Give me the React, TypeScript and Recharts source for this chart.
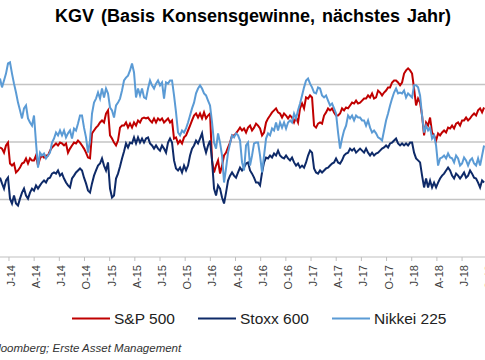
import { LineChart, Line, XAxis, YAxis, ReferenceLine } from 'recharts';

// Zeitachse in Monaten relativ zu Jan 2014, Beginn Anfang Dez 2013, etwa wöchentlich
const START = -1.07;
const STEP = 0.2384;

const quarterTicks = [0, 3, 6, 9, 12, 15, 18, 21, 24, 27, 30, 33, 36, 39, 42, 45, 48, 51, 54, 57];
const tickLabels = [
  'J-14', 'A-14', 'J-14', 'O-14', 'J-15', 'A-15', 'J-15', 'O-15', 'J-16', 'A-16',
  'J-16', 'O-16', 'J-17', 'A-17', 'J-17', 'O-17', 'J-18', 'A-18', 'J-18', 'O-18',
];
const gridValues = [14, 16, 18];

const sp500 = [
  15.81, 15.77, 15.63, 15.88, 15.98, 15.25, 15.18, 15.25, 14.94, 15.01,
  15.11, 15.25, 15.29, 15.43, 15.25, 15.43, 15.36, 15.36, 15.53, 15.18,
  15.43, 15.53, 15.46, 15.53, 15.53, 15.70, 15.81, 15.88, 15.95, 15.88,
  15.98, 15.95, 15.88, 15.95, 15.63, 15.77, 15.88, 15.98, 15.95, 16.05,
  15.98, 15.88, 15.77, 15.63, 15.46, 15.43, 16.30, 16.40, 16.50, 16.57,
  16.68, 16.75, 16.68, 16.99, 17.10, 16.23, 16.12, 15.98, 15.88, 16.05,
  16.50, 16.57, 16.57, 16.68, 16.50, 16.64, 16.50, 16.68, 16.57, 16.75,
  16.68, 16.82, 16.85, 16.82, 16.85, 16.75, 16.68, 16.82, 16.68, 16.82,
  16.75, 16.82, 16.68, 16.75, 16.82, 16.68, 16.75, 16.12, 16.16, 15.95,
  16.05, 15.95, 16.16, 16.23, 16.40, 16.57, 16.75, 16.92, 16.99, 16.85,
  16.99, 16.82, 17.03, 16.82, 16.92, 16.99, 15.36, 14.94, 15.18, 15.36,
  14.90, 15.18, 15.53, 15.63, 15.81, 15.98, 16.23, 16.23, 16.30, 16.40,
  16.50, 16.40, 16.47, 16.33, 16.50, 16.57, 16.40, 16.50, 16.64, 16.57,
  16.47, 16.23, 16.33, 16.68, 16.82, 16.92, 17.03, 17.10, 17.17, 17.03,
  16.99, 16.85, 16.99, 16.92, 16.82, 16.92, 16.85, 16.68, 16.85, 16.68,
  17.17, 17.34, 17.17, 17.55, 17.51, 17.62, 17.55, 16.57, 16.50, 16.64,
  16.68, 16.64, 16.92, 17.03, 17.17, 17.10, 17.17, 17.03, 16.92, 16.92,
  16.99, 17.17, 17.10, 17.20, 17.17, 17.27, 17.37, 17.34, 17.44, 17.34,
  17.37, 17.44, 17.51, 17.51, 17.62, 17.55, 17.69, 17.51, 17.55, 17.79,
  17.72, 17.62, 17.72, 17.79, 17.90, 17.90, 18.07, 18.14, 18.14, 18.07,
  17.97, 18.07, 18.38, 18.49, 18.56, 18.49, 18.38, 17.86, 17.27, 17.51,
  17.37, 16.92, 16.23, 16.68, 16.57, 16.85, 16.33, 16.23, 16.05, 16.30,
  16.23, 16.33, 16.40, 16.33, 16.50, 16.47, 16.57, 16.47, 16.64, 16.68,
  16.57, 16.75, 16.75, 16.85, 16.75, 16.82, 16.92, 16.99, 16.92, 17.10,
  17.17, 17.03, 17.20,
];

const stoxx600 = [
  14.76, 14.56, 14.38, 14.66, 14.76, 14.03, 13.86, 14.14, 13.86, 13.79,
  14.03, 14.24, 14.38, 14.14, 14.03, 14.24, 14.38, 14.31, 14.49, 14.38,
  14.49, 14.59, 14.66, 14.59, 14.73, 14.76, 14.90, 14.94, 14.90, 15.01,
  14.83, 14.90, 14.73, 14.59, 14.49, 14.42, 14.73, 14.83, 14.94, 15.01,
  15.08, 15.01, 14.76, 14.56, 14.31, 14.24, 14.56, 14.83, 15.01, 15.18,
  15.25, 15.43, 15.18, 15.01, 15.29, 14.38, 14.07, 14.14, 14.73, 14.90,
  15.15, 15.43, 15.67, 15.95, 15.81, 15.98, 15.95, 16.16, 15.95, 16.16,
  15.98, 16.12, 15.98, 16.12, 16.16, 15.95, 15.88, 15.77, 15.88, 15.77,
  15.70, 15.88, 15.77, 15.63, 15.98, 16.12, 15.98, 15.36, 15.08, 15.01,
  15.11, 14.94, 15.18, 15.01, 15.18, 15.53, 15.77, 15.88, 16.05, 15.95,
  16.12, 16.30, 15.88, 15.63, 15.88, 16.05, 15.36, 14.38, 14.14, 14.49,
  14.38, 14.07, 13.86, 14.24, 14.66, 14.83, 14.94, 14.83, 14.76, 14.94,
  15.11, 15.01, 15.11, 15.25, 15.29, 15.01, 14.90, 14.76, 14.59, 14.59,
  14.49, 14.94, 15.29, 15.46, 15.43, 15.53, 15.46, 15.60, 15.53, 15.70,
  15.53, 15.46, 15.43, 15.53, 15.43, 15.36, 15.46, 15.29, 15.18, 15.25,
  15.11, 15.18, 15.11, 15.29, 15.53, 15.70, 15.63, 15.08, 14.94, 14.90,
  15.01, 14.94, 15.01, 15.08, 15.11, 15.18, 15.25, 15.29, 15.43, 15.29,
  15.25, 15.36, 15.53, 15.60, 15.63, 15.77, 15.70, 15.77, 15.63, 15.70,
  15.77, 15.70, 15.63, 15.77, 15.63, 15.53, 15.63, 15.53, 15.60, 15.63,
  15.70, 15.77, 15.81, 15.88, 15.81, 15.95, 15.98, 16.05, 16.12, 15.95,
  15.88, 15.95, 15.88, 15.95, 15.88, 15.98, 15.98, 15.63, 15.43, 15.36,
  15.29, 14.83, 14.42, 14.73, 14.42, 14.66, 14.42, 14.59, 14.42, 14.59,
  14.73, 14.83, 14.90, 15.01, 15.11, 15.01, 14.83, 14.73, 14.90, 14.83,
  14.73, 14.83, 14.94, 14.76, 14.83, 15.01, 14.90, 14.76, 14.73, 14.59,
  14.42, 14.66, 14.59,
];

const nikkei225 = [
  18.21, 17.90, 18.14, 18.38, 18.73, 18.77, 18.38, 18.03, 17.72, 17.37,
  17.10, 16.82, 17.17, 17.27, 16.82, 16.68, 16.57, 16.92, 15.98, 15.11,
  15.63, 15.53, 15.60, 15.43, 15.53, 15.63, 15.98, 16.12, 16.33, 16.23,
  16.40, 16.23, 16.40, 16.16, 16.30, 16.40, 16.12, 16.47, 16.40, 16.64,
  16.92, 16.92, 16.50, 16.16, 15.63, 16.05, 16.99, 17.37, 17.51, 17.72,
  17.51, 17.86, 17.55, 17.86, 17.69, 17.20, 17.10, 16.85, 17.27, 17.37,
  17.51, 17.79, 18.14, 18.24, 18.31, 18.49, 18.73, 18.42, 17.55, 17.86,
  17.62, 17.86, 17.55, 17.51, 17.86, 18.14, 17.97, 17.86, 18.03, 18.14,
  17.97, 18.07, 17.51, 18.07, 18.03, 18.14, 18.14, 17.62, 17.03, 16.33,
  16.23, 16.40, 16.33, 16.47, 16.68, 16.92, 17.17, 17.37, 17.69, 17.86,
  17.97, 17.86, 17.69, 17.62, 17.44, 17.27, 16.68, 15.98, 15.77, 16.30,
  15.98, 15.53, 14.59, 15.08, 15.63, 15.95, 16.23, 16.16, 16.30, 16.23,
  16.05, 15.29, 15.01, 15.88, 15.98, 15.18, 15.53, 15.95, 15.98, 15.98,
  15.53, 14.94, 15.53, 16.12, 16.30, 16.23, 16.47, 16.40, 16.68, 16.40,
  16.68, 16.50, 16.68, 16.47, 16.68, 16.75, 16.68, 16.99, 16.82, 17.10,
  17.34, 17.62, 17.90, 18.14, 18.21, 18.03, 17.90, 17.72, 17.69, 17.90,
  17.86, 17.62, 17.55, 17.62, 17.44, 17.27, 17.34, 17.17, 16.99, 16.33,
  15.77, 16.12, 16.40, 16.57, 16.92, 16.82, 16.92, 16.75, 16.92, 16.85,
  16.85, 16.75, 16.75, 16.57, 16.75, 16.50, 16.33, 16.40, 16.30, 16.16,
  16.12, 16.05, 16.40, 16.75, 16.99, 17.27, 17.51, 17.72, 17.86, 17.69,
  17.72, 17.69, 17.79, 17.55, 17.69, 17.62, 17.55, 17.97, 17.97, 17.90,
  17.62, 16.92, 16.33, 16.57, 16.40, 16.50, 16.12, 16.23, 15.88, 15.18,
  15.43, 15.46, 15.53, 15.43, 15.60, 15.46, 15.43, 15.29, 15.53, 15.43,
  15.18, 15.25, 15.46, 15.36, 15.18, 15.36, 15.43, 15.25, 15.18, 15.43,
  15.18, 15.53, 15.88,
];

const data = sp500.map((v, i) => ({
  t: START + i * STEP,
  sp500: v,
  stoxx600: stoxx600[i],
  nikkei225: nikkei225[i],
}));

const FONT = '"Liberation Sans", Arial, sans-serif';
const RED = '#C00000';
const NAVY = '#0E2A68';
const LIGHT = '#5B9BD5';

function QuarterTick({ x, y, payload }: { x?: number; y?: number; payload?: { value: number } }) {
  const label = tickLabels[Math.round((payload?.value ?? 0) / 3)];
  return (
    <text
      transform={`translate(${(x ?? 0) + 6},${(y ?? 0) + 2}) rotate(-90)`}
      textAnchor="end"
      fontSize={11}
      fontFamily={FONT}
      fill="#404040"
    >
      {label}
    </text>
  );
}

const legendItems = [
  { name: 'S&P 500', color: RED, x: 72 },
  { name: 'Stoxx 600', color: NAVY, x: 198 },
  { name: 'Nikkei 225', color: LIGHT, x: 332 },
];

export default function App() {
  return (
    <div style={{ position: 'absolute', left: 0, top: 0, width: 485, height: 360, overflow: 'hidden', background: '#fff' }}>
      <LineChart width={500} height={360} data={data} margin={{ top: 27, right: 0, bottom: 63, left: 0 }}>
        <XAxis
          dataKey="t"
          type="number"
          domain={[-1.07, 58.52]}
          allowDataOverflow
          ticks={quarterTicks}
          interval={0}
          height={40}
          stroke="#BFBFBF"
          tickSize={4}
          tick={<QuarterTick />}
        />
        <YAxis hide domain={[12, 20]} allowDataOverflow />
        {gridValues.map((g) => (
          <ReferenceLine key={g} y={g} stroke="#C4C4C4" strokeWidth={1.5} />
        ))}
        <Line type="linear" dataKey="sp500" stroke={RED} strokeWidth={2} dot={false} isAnimationActive={false} />
        <Line type="linear" dataKey="stoxx600" stroke={NAVY} strokeWidth={2} dot={false} isAnimationActive={false} />
        <Line type="linear" dataKey="nikkei225" stroke={LIGHT} strokeWidth={2} dot={false} isAnimationActive={false} />
      </LineChart>
      <svg width={485} height={360} style={{ position: 'absolute', left: 0, top: 0, pointerEvents: 'none' }}>
        <text x={253} y={21.5} textAnchor="middle" fontSize={18} fontWeight="bold" fontFamily={FONT} fill="#000" style={{ wordSpacing: 2 }}>
          KGV (Basis Konsensgewinne, nächstes Jahr)
        </text>
        {legendItems.map((it) => (
          <g key={it.name}>
            <line x1={it.x} x2={it.x + 38} y1={318.5} y2={318.5} stroke={it.color} strokeWidth={2} />
            <text x={it.x + 42} y={323.5} fontSize={15.5} fontFamily={FONT} fill="#222">
              {it.name}
            </text>
          </g>
        ))}
        <text x={-9.5} y={352} fontSize={11.5} fontStyle="italic" fontFamily={FONT} fill="#333">
          Bloomberg; Erste Asset Management
        </text>
      </svg>
    </div>
  );
}
